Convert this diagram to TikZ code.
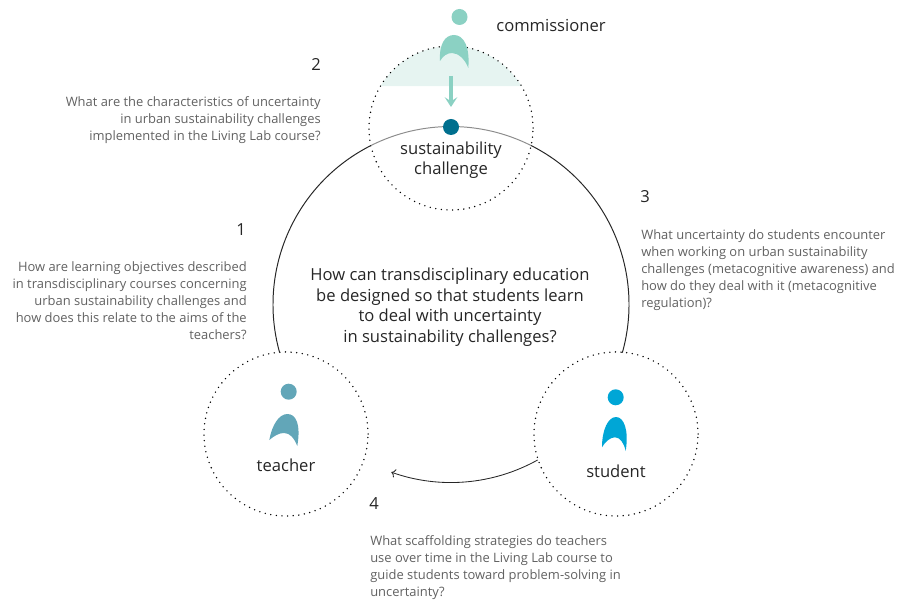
\documentclass[tikz,border=0pt]{standalone}
\usepackage{fontspec}
\usepackage{xcolor}
\setmainfont{Open Sans}
\usetikzlibrary{arrows.meta}
\definecolor{mint}{HTML}{8BD1C3}
\definecolor{mintpale}{HTML}{E6F4F1}
\definecolor{petrol}{HTML}{006F8E}
\definecolor{steel}{HTML}{62A6B8}
\definecolor{azure}{HTML}{00A6D6}
\tikzset{
  dotcircle/.style={circle, draw, minimum size=4.1cm, inner sep=0pt, outer sep=0pt, line width=1.1pt, line cap=round, dash pattern=on 0pt off 4pt},
  head/.style={circle, minimum size=0.4cm, inner sep=0pt},
  rolelabel/.style={text=black!85, font=\fontsize{11.8}{14.6}\selectfont, align=center},
  question/.style={text=black!62, font=\fontsize{9.2}{12.1}\selectfont},
  number/.style={text=black!85, font=\fontsize{11.8}{14}\selectfont}
}
\begin{document}
\begin{tikzpicture}[x=0.025cm,y=0.025cm]
\useasboundingbox (0,0) rectangle (902,600);
\coordinate (C) at (451,295.5);
\coordinate (S) at (451,472);

\fill [mintpale] (S) ++(149.2:82) arc[start angle=149.2, end angle=30.8, radius=82] -- cycle;

\node (Dtop) at (451,472) [dotcircle] {};
\node (Dteacher) at (286,166) [dotcircle] {};
\node (Dstudent) at (616,166) [dotcircle] {};

\draw [black!85, line width=0.7pt] (C) ++(116.7:178) arc[start angle=116.7, end angle=195.6, radius=178];
\draw [black!85, line width=0.7pt] (C) ++(63.3:178) arc[start angle=63.3, end angle=-15.7, radius=178];
\draw [black!45, line width=0.7pt] (C) ++(116.7:178) arc[start angle=116.7, end angle=63.3, radius=178];
\draw [black!85, line width=0.6pt, ->] (C) ++(-60.9:178) arc[start angle=-60.9, end angle=-109.6, radius=178];

\node (Hcomm) at (459.5,583) [head, fill=mint] {};
\node (Hteacher) at (288.7,208.3) [head, fill=steel] {};
\node (Hstudent) at (615.7,202.7) [head, fill=azure] {};
\node (Dot) at (451,473) [head, fill=petrol] {};

\fill [mint] (440,539) .. controls (439,556) and (445,565) .. (454,565) .. controls (464,565) and (470,553) .. (468.3,532) .. controls (465,541) and (458,547) .. (452,547) .. controls (447,547) and (443,544) .. (440,539) -- cycle;
\fill [steel] (269.3,160) .. controls (272,175) and (279,186) .. (287.3,186) .. controls (296,186) and (301,176) .. (297.3,154) .. controls (294,162) and (290,167) .. (284,167) .. controls (279,167) and (274,164) .. (269.3,160) -- cycle;
\fill [azure] (602,152.7) .. controls (602,170) and (608,183) .. (616,183) .. controls (624,183) and (629,170) .. (625.7,149) .. controls (624,157) and (620,162.7) .. (615,162.7) .. controls (610,162.7) and (605,158) .. (602,152.7) -- cycle;

\coordinate (Afrom) at (451,524);
\coordinate (Ato) at (451,493);
\draw [mint, line width=2.2pt, -{Stealth[length=7pt, width=9pt, inset=3pt]}] (Afrom) -- (Ato);

\node (Lcomm) at (551,575) [rolelabel] {commissioner};
\node (Lchallenge) at (451,440) [rolelabel, font=\fontsize{11.8}{13.8}\selectfont] {sustainability\\challenge};
\node (Lteacher) at (286,135) [rolelabel] {teacher};
\node (Lstudent) at (616,129) [rolelabel] {student};
\node (Main) at (450,293) [rolelabel] {How can transdisciplinary education\\be designed so that students learn\\to deal with uncertainty\\in sustainability challenges?};

\node (N1) at (241,370) [number] {1};
\node (N2) at (316,536) [number] {2};
\node (N3) at (645,403) [number] {3};
\node (N4) at (374,96) [number] {4};

\node (Q2) at (321,480) [question, anchor=east, align=right, inner sep=0pt] {What are the characteristics of uncertainty\\in urban sustainability challenges\\implemented in the Living Lab course?};
\node (Q1) at (247,299) [question, anchor=east, align=right, inner sep=0pt] {How are learning objectives described\\in transdisciplinary courses concerning\\urban sustainability challenges and\\how does this relate to the aims of the\\teachers?};
\node (Q3) at (641,330) [question, anchor=west, align=left, inner sep=0pt] {What uncertainty do students encounter\\when working on urban sustainability\\challenges (metacognitive awareness) and\\how do they deal with it (metacognitive\\regulation)?};
\node (Q4) at (370,32) [question, anchor=west, align=left, inner sep=0pt] {What scaffolding strategies do teachers\\use over time in the Living Lab course to\\guide students toward problem-solving in\\uncertainty?};
\end{tikzpicture}
\end{document}
